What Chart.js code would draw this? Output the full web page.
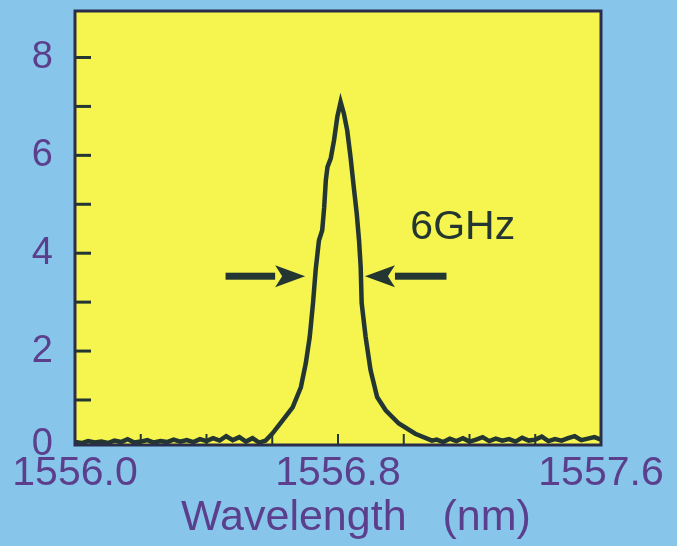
<!DOCTYPE html>
<html>
<head>
<meta charset="utf-8">
<script src="https://cdn.jsdelivr.net/npm/chart.js@4.4.0/dist/chart.umd.min.js"></script>
<style>
  body { margin: 0; background: #87c6ea; }
  #wrap { width: 677px; height: 546px; }
</style>
</head>
<body>
<div id="wrap"><canvas id="chart" width="677" height="546"></canvas></div>
<script>
// spectrum
const wavelength = [
  1556.00, 1556.02, 1556.04, 1556.06, 1556.08, 1556.10, 1556.12, 1556.14, 1556.16, 1556.18,
  1556.20, 1556.22, 1556.24, 1556.26, 1556.28, 1556.30, 1556.32, 1556.34, 1556.36, 1556.38,
  1556.40, 1556.42, 1556.44, 1556.46, 1556.48, 1556.50, 1556.52, 1556.54, 1556.56, 1556.58,
  1556.601, 1556.631, 1556.662, 1556.687, 1556.702, 1556.714, 1556.724, 1556.732, 1556.742, 1556.752,
  1556.758, 1556.763, 1556.768, 1556.778, 1556.788, 1556.798, 1556.808, 1556.818, 1556.828, 1556.838,
  1556.848, 1556.857, 1556.864, 1556.869, 1556.872, 1556.884, 1556.899, 1556.919, 1556.945, 1556.985,
  1557.035, 1557.086, 1557.10, 1557.12, 1557.14, 1557.16, 1557.18, 1557.20, 1557.22, 1557.24,
  1557.26, 1557.28, 1557.30, 1557.32, 1557.34, 1557.36, 1557.38, 1557.40, 1557.42, 1557.44,
  1557.46, 1557.48, 1557.50, 1557.52, 1557.54, 1557.56, 1557.58, 1557.60
]
const intensity = [
  0.14, 0.12, 0.16, 0.13, 0.15, 0.12, 0.17, 0.14, 0.20, 0.13,
  0.15, 0.18, 0.13, 0.16, 0.14, 0.19, 0.15, 0.18, 0.14, 0.20,
  0.16, 0.22, 0.17, 0.26, 0.18, 0.24, 0.15, 0.22, 0.13, 0.17,
  0.32, 0.58, 0.85, 1.26, 1.75, 2.29, 2.98, 3.65, 4.26, 4.47,
  4.94, 5.49, 5.76, 5.94, 6.31, 6.79, 7.09, 6.85, 6.51, 5.97,
  5.35, 4.81, 4.26, 3.72, 2.98, 2.29, 1.61, 1.06, 0.79, 0.52,
  0.31, 0.17, 0.19, 0.14, 0.21, 0.16, 0.22, 0.15, 0.19, 0.24,
  0.16, 0.21, 0.17, 0.20, 0.15, 0.23, 0.17, 0.19, 0.25, 0.16,
  0.20, 0.17, 0.22, 0.26, 0.18, 0.21, 0.24, 0.19
]
const xLabels = [1556.0, 1556.8, 1557.6]
const xMinorTicks = [1556.2, 1556.4, 1556.6, 1556.8, 1557.0, 1557.2, 1557.4]
const yLabels = [0, 2, 4, 6, 8]
const yMinorTicks = [1, 2, 3, 4, 5, 6, 7, 8]
const widthLabel = '6GHz'

const lineColor = '#233632'
const textColor = '#5b3f8c'
const fontFamily = '"Liberation Sans", Arial, sans-serif'

const framePlugin = {
  id: 'frame',
  beforeDraw(chart) {
    const { ctx, chartArea: a } = chart
    ctx.save()
    ctx.fillStyle = '#f6f44e'
    ctx.fillRect(a.left, a.top, a.right - a.left, a.bottom - a.top)
    ctx.restore()
  },
  afterDraw(chart) {
    const { ctx, chartArea: a, scales: { x, y } } = chart
    ctx.save()
    ctx.strokeStyle = '#2a2e4a'
    ctx.lineWidth = 3
    ctx.strokeRect(a.left, a.top, a.right - a.left, a.bottom - a.top)

    // inside ticks
    ctx.strokeStyle = lineColor
    ctx.lineWidth = 3
    yMinorTicks.forEach(v => {
      const py = y.getPixelForValue(v)
      ctx.beginPath()
      ctx.moveTo(a.left, py)
      ctx.lineTo(a.left + 16, py)
      ctx.stroke()
    })
    ctx.lineWidth = 2
    xMinorTicks.forEach(v => {
      const px = x.getPixelForValue(v)
      ctx.beginPath()
      ctx.moveTo(px, a.bottom)
      ctx.lineTo(px, a.bottom - 11)
      ctx.stroke()
    })

    // FWHM arrows
    ctx.fillStyle = lineColor
    const ay = y.getPixelForValue(3.53)
    const arrow = (from, to) => {
      const x0 = x.getPixelForValue(from)
      const x1 = x.getPixelForValue(to)
      const dir = Math.sign(x1 - x0)
      const headStart = x1 - dir * 30
      ctx.fillRect(Math.min(x0, headStart), ay - 3.5, Math.abs(headStart - x0), 7)
      ctx.beginPath()
      ctx.moveTo(x1, ay)
      ctx.lineTo(headStart, ay - 11)
      ctx.lineTo(headStart + dir * 7, ay)
      ctx.lineTo(headStart, ay + 11)
      ctx.closePath()
      ctx.fill()
    }
    arrow(1556.458, 1556.70)
    arrow(1557.13, 1556.882)

    ctx.font = '41px ' + fontFamily
    ctx.textBaseline = 'middle'
    ctx.textAlign = 'left'
    ctx.fillText(widthLabel, x.getPixelForValue(1557.02), y.getPixelForValue(4.53))
    ctx.restore()
  }
}

const chart = new Chart(document.querySelector('#chart'), {
  type: 'scatter',
  data: {
    datasets: [{
      data: wavelength.map((w, i) => ({ x: w, y: intensity[i] })),
      showLine: true,
      borderColor: lineColor,
      borderWidth: 4.5,
      pointRadius: 0,
      tension: 0
    }]
  },
  options: {
    responsive: false,
    animation: false,
    layout: { padding: { left: 0, right: 76, top: 11, bottom: 0 } },
    plugins: { legend: { display: false }, tooltip: { enabled: false } },
    scales: {
      x: {
        type: 'linear',
        min: 1556.0,
        max: 1557.6,
        grid: { display: false },
        border: { display: false },
        afterBuildTicks: s => { s.ticks = xLabels.map(v => ({ value: v })) },
        afterFit: s => { s.height = 101; s.paddingLeft = 0; s.paddingRight = 0 },
        ticks: {
          autoSkip: false,
          maxRotation: 0,
          padding: -4,
          color: textColor,
          font: { family: fontFamily, size: 41 },
          callback: v => v.toFixed(1)
        },
        title: {
          display: true,
          text: '\u00a0\u00a0\u00a0Wavelength\u00a0\u00a0\u00a0(nm)',
          color: textColor,
          font: { family: fontFamily, size: 43 },
          padding: { top: 0, bottom: 2 }
        }
      },
      y: {
        min: 0.08,
        max: 8.95,
        grid: { display: false },
        border: { display: false },
        afterBuildTicks: s => { s.ticks = yLabels.map(v => ({ value: v === 0 ? 0.08 : v })) },
        afterFit: s => { s.width = 75; s.paddingTop = 0; s.paddingBottom = 0 },
        ticks: {
          padding: 14,
          color: textColor,
          font: { family: fontFamily, size: 38 },
          callback: v => v < 0.5 ? '0' : String(v)
        }
      }
    }
  },
  plugins: [framePlugin]
})
</script>
</body>
</html>
